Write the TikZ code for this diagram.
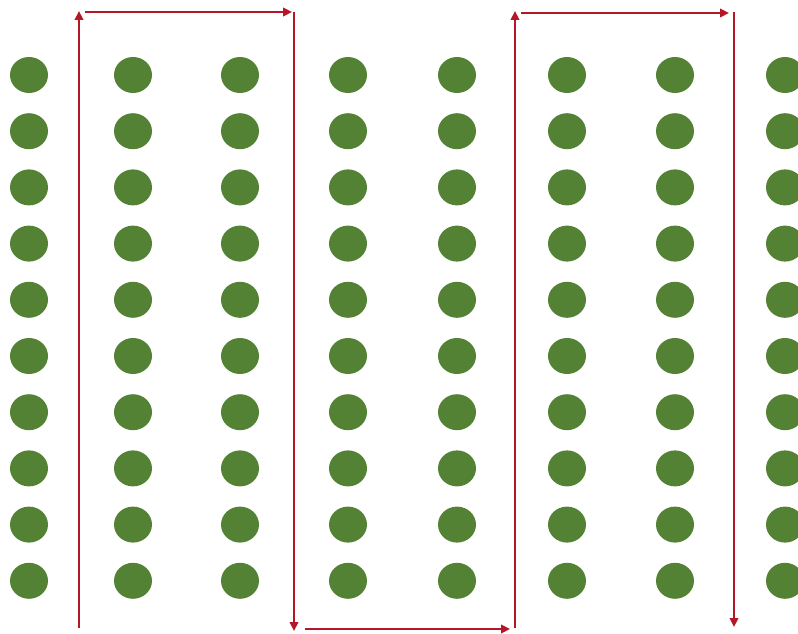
\documentclass[tikz,border=0pt]{standalone}
\usetikzlibrary{shapes.geometric,arrows.meta}
\definecolor{dotgreen}{RGB}{84,130,53}
\definecolor{pathred}{RGB}{180,24,40}
\tikzset{
  dot/.style={ellipse,fill=dotgreen,draw=none,minimum width=38pt,minimum height=36pt,inner sep=0pt},
  route/.style={draw=pathred,line width=2.8pt,-{Triangle[length=9pt,width=8.5pt]}}
}
\begin{document}
\begin{tikzpicture}[x=1pt,y=-1pt]
\useasboundingbox (0,0) rectangle (798,634);
\clip (0,0) rectangle (798,634);
\foreach \cx [count=\i] in {29,133,240,348,457,567,675,785}{
  \foreach \r in {0,...,9}{
    \node[dot] (d\i-\r) at (\cx,{75+56.2*\r}) {};
  }
}
\coordinate (c1b) at (79,628);
\coordinate (c1t) at (79,11);
\coordinate (t1s) at (85,12);
\coordinate (t1e) at (292,12);
\coordinate (c2t) at (294,12);
\coordinate (c2b) at (294,631);
\coordinate (b1s) at (305,629);
\coordinate (b1e) at (510,629);
\coordinate (c3b) at (515,628);
\coordinate (c3t) at (515,11);
\coordinate (t2s) at (521,13);
\coordinate (t2e) at (729,13);
\coordinate (c4t) at (734,12);
\coordinate (c4b) at (734,627);
\draw[route] (c1b) -- (c1t);
\draw[route] (t1s) -- (t1e);
\draw[route] (c2t) -- (c2b);
\draw[route] (b1s) -- (b1e);
\draw[route] (c3b) -- (c3t);
\draw[route] (t2s) -- (t2e);
\draw[route] (c4t) -- (c4b);
\end{tikzpicture}
\end{document}
